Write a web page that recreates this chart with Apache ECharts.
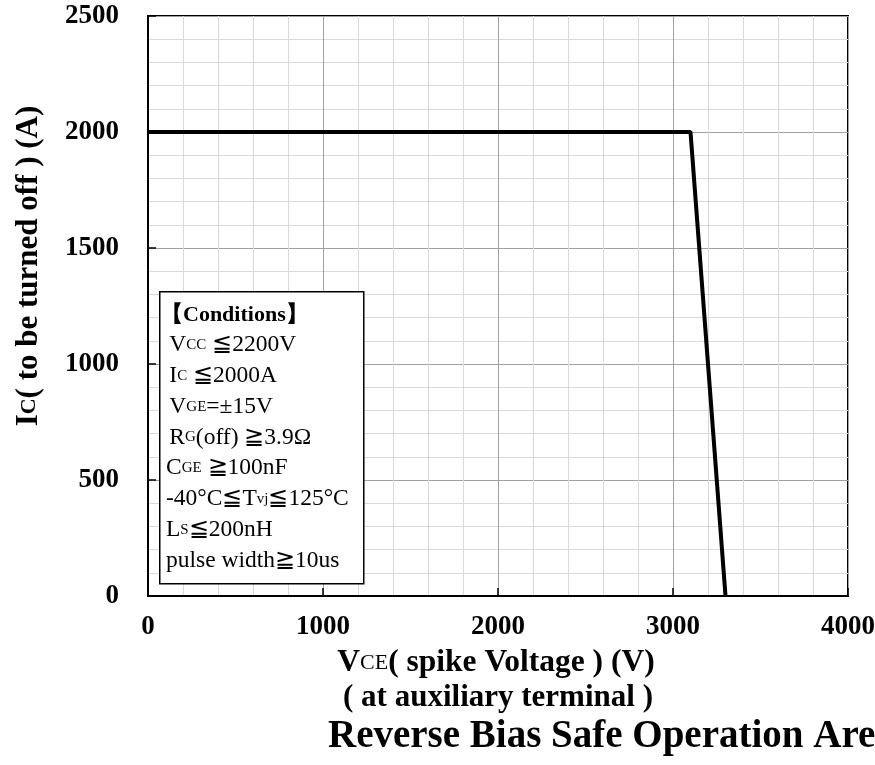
<!DOCTYPE html>
<html><head><meta charset="utf-8">
<script src="https://cdn.jsdelivr.net/npm/echarts@6/dist/echarts.min.js"></script>
<style>html,body{margin:0;padding:0;background:#fff}#c{width:875px;height:765px}</style>
</head><body><div id="c"></div>
<script>
const vce = [0, 3100, 3300];
const ic = [2000, 2000, 0];
const xTicks = [0, 1000, 2000, 3000, 4000];
const yTicks = [0, 500, 1000, 1500, 2000, 2500];

const F = 'Liberation Serif, Times New Roman, serif';
const chart = echarts.init(document.getElementById('c'));
chart.setOption({
  animation: false,
  grid: {left: 148, top: 16, width: 700, height: 580, show: true, borderColor: '#000', borderWidth: 2, backgroundColor: '#fff', containLabel: false, outerBoundsMode: 'none'},
  xAxis: {
    type: 'value', min: xTicks[0], max: xTicks[xTicks.length-1], interval: 1000,
    axisLine: {show: true, lineStyle: {color: '#000', width: 2}},
    axisTick: {show: true, inside: true, length: 8, lineStyle: {color: '#000', width: 1.5}},
    axisLabel: {fontFamily: F, fontWeight: 'bold', fontSize: 27, color: '#000', margin: 18, formatter: v => String(v)},
    splitLine: {show: true, lineStyle: {color: '#a0a0a0', width: 1}},
    minorTick: {show: false, splitNumber: 5},
    minorSplitLine: {show: true, lineStyle: {color: '#d9d9d9', width: 1}}
  },
  yAxis: {
    type: 'value', min: yTicks[0], max: yTicks[yTicks.length-1], interval: 500,
    axisLine: {show: true, lineStyle: {color: '#000', width: 2}},
    axisTick: {show: true, inside: true, length: 8, lineStyle: {color: '#000', width: 1.5}},
    axisLabel: {fontFamily: F, fontWeight: 'bold', fontSize: 27, color: '#000', margin: 29, formatter: v => String(v)},
    splitLine: {show: true, lineStyle: {color: '#a0a0a0', width: 1}},
    minorTick: {show: false, splitNumber: 5},
    minorSplitLine: {show: true, lineStyle: {color: '#d9d9d9', width: 1}}
  },
  series: [{
    type: 'line', data: vce.map((v, i) => [v, ic[i]]), symbol: 'none',
    lineStyle: {color: '#000', width: 4}, z: 5
  }],
  graphic: [
    {type: 'rect', left: 159, top: 291, shape: {width: 204, height: 292}, style: {fill: '#fff', stroke: '#000', lineWidth: 1.5}, z: 100},
    {type: 'text', left: 161, top: 304, z: 101, style: {
      text: '【Conditions】', font: 'bold 22px ' + F, fill: '#000'}},
    {type: 'text', left: 166, top: 333, z: 101, style: {
      text: ' {r|V}{s|CC}{r| ≦2200V}\n {r|I}{s|C}{r| ≦2000A}\n {r|V}{s|GE}{r|=±15V}\n {r|R}{s|G}{r|(off) ≧3.9Ω}\n{r|C}{s|GE}{r| ≧100nF}\n{r|-40°C≦T}{s|vj}{r|≦125°C}\n{r|L}{s|S}{r|≦200nH}\n{r|pulse width≧10us}',
      fill: '#000',
      rich: {
        r: {fontFamily: F, fontSize: 23.5, lineHeight: 30.8},
        s: {fontFamily: F, fontSize: 15, lineHeight: 30.8, verticalAlign: 'middle'}
      }}},
    {type: 'text', x: 496, y: 663, z: 101, style: {
      text: '{b|V}{s|CE}{b|( spike Voltage ) (V)}', align: 'center', verticalAlign: 'middle',
      rich: {b: {fontFamily: F, fontSize: 31.5, fontWeight: 'bold', lineHeight: 36}, s: {fontFamily: F, fontSize: 22, fontWeight: 'normal', lineHeight: 36, verticalAlign: 'middle'}}}},
    {type: 'text', x: 498, y: 698, z: 101, style: {
      text: '( at auxiliary terminal )', align: 'center', verticalAlign: 'middle',
      font: 'bold 31px ' + F, fill: '#000'}},
    {type: 'text', x: 328, y: 737, z: 101, style: {
      text: 'Reverse Bias Safe Operation Area', align: 'left', verticalAlign: 'middle',
      font: 'bold 39px ' + F, fill: '#000'}},
    {type: 'text', x: 29, y: 266, rotation: Math.PI/2, z: 101, style: {
      text: '{b|I}{s|C}{b|( to be turned off ) (A)}', align: 'center', verticalAlign: 'middle',
      rich: {b: {fontFamily: F, fontSize: 31, fontWeight: 'bold', lineHeight: 36}, s: {fontFamily: F, fontSize: 22, fontWeight: 'bold', lineHeight: 36, verticalAlign: 'middle'}}}}
  ]
});
</script></body></html>
